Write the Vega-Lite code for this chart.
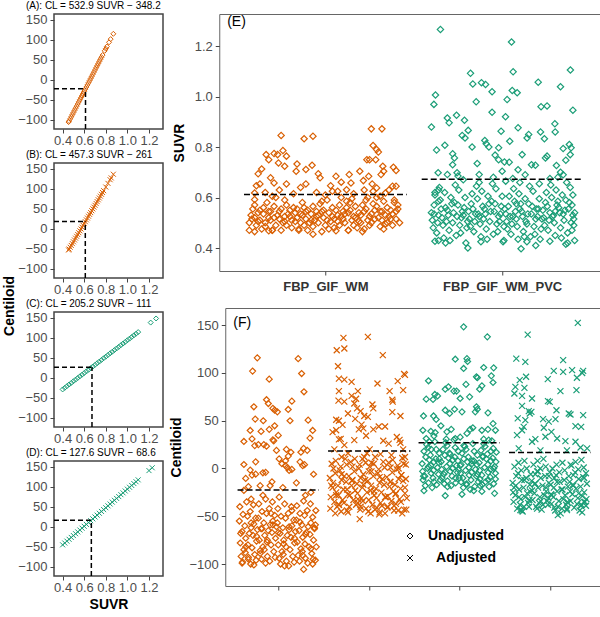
{
"$schema":"https://vega.github.io/schema/vega-lite/v6.json",
"padding":{"left":2,"top":0,"right":0,"bottom":0},
"background":"white",
"config":{
 "font":"Liberation Sans",
 "view":{"stroke":"#555","strokeWidth":1},
 "axis":{"grid":false,"domain":false,"ticks":true,"tickColor":"#444","tickSize":4,"labelColor":"#4D4D4D","labelFontSize":13,"labelPadding":2,"titleColor":"black","titleFontSize":14,"titleFontWeight":"bold","labelOverlap":false,"labelFlush":false},
 "title":{"fontSize":10,"fontWeight":"normal","anchor":"start","color":"black","offset":3,"frame":"group"}
},
"datasets":{
"t":[{"p":"E","x":0.445,"y":1.294,"t":"(E)"},{"p":"F","x":0.502,"y":152.3,"t":"(F)"}],
"e":[
{"g":"W","x":0.57,"s":0.5},{"g":"W","x":0.58,"s":0.53},{"g":"W","x":0.57,"s":0.47},{"g":"W","x":0.59,"s":0.555},
{"g":"W","x":0.6,"s":0.52},{"g":"W","x":0.61,"s":0.49},{"g":"W","x":0.6,"s":0.57},{"g":"W","x":0.62,"s":0.54},
{"g":"W","x":0.63,"s":0.51},{"g":"W","x":0.64,"s":0.475},{"g":"W","x":0.63,"s":0.55},{"g":"W","x":0.65,"s":0.535},
{"g":"W","x":0.66,"s":0.5},{"g":"W","x":0.67,"s":0.58},{"g":"W","x":0.66,"s":0.485},{"g":"W","x":0.68,"s":0.52},
{"g":"W","x":0.69,"s":0.545},{"g":"W","x":0.7,"s":0.47},{"g":"W","x":0.69,"s":0.51},{"g":"W","x":0.71,"s":0.565},
{"g":"W","x":0.72,"s":0.49},{"g":"W","x":0.73,"s":0.53},{"g":"W","x":0.72,"s":0.6},{"g":"W","x":0.74,"s":0.515},
{"g":"W","x":0.75,"s":0.555},{"g":"W","x":0.76,"s":0.5},{"g":"W","x":0.75,"s":0.47},{"g":"W","x":0.77,"s":0.525},
{"g":"W","x":0.78,"s":0.57},{"g":"W","x":0.79,"s":0.535},{"g":"W","x":0.78,"s":0.49},{"g":"W","x":0.8,"s":0.55},
{"g":"W","x":0.81,"s":0.51},{"g":"W","x":0.82,"s":0.56},{"g":"W","x":0.81,"s":0.48},{"g":"W","x":0.83,"s":0.54},
{"g":"W","x":0.84,"s":0.52},{"g":"W","x":0.85,"s":0.475},{"g":"W","x":0.84,"s":0.555},{"g":"W","x":0.86,"s":0.5},
{"g":"W","x":0.87,"s":0.53},{"g":"W","x":0.88,"s":0.49},{"g":"W","x":0.87,"s":0.58},{"g":"W","x":0.89,"s":0.515},
{"g":"W","x":0.9,"s":0.55},{"g":"W","x":0.91,"s":0.5},{"g":"W","x":0.9,"s":0.47},{"g":"W","x":0.92,"s":0.535},
{"g":"W","x":0.93,"s":0.565},{"g":"W","x":0.94,"s":0.51},{"g":"W","x":0.93,"s":0.485},{"g":"W","x":0.95,"s":0.545},
{"g":"W","x":0.96,"s":0.5},{"g":"W","x":0.97,"s":0.575},{"g":"W","x":0.96,"s":0.53},{"g":"W","x":0.98,"s":0.465},
{"g":"W","x":0.99,"s":0.52},{"g":"W","x":1.0,"s":0.49},{"g":"W","x":0.99,"s":0.55},{"g":"W","x":1.01,"s":0.59},
{"g":"W","x":1.02,"s":0.54},{"g":"W","x":1.03,"s":0.505},{"g":"W","x":1.02,"s":0.475},{"g":"W","x":1.04,"s":0.56},
{"g":"W","x":1.05,"s":0.515},{"g":"W","x":1.06,"s":0.55},{"g":"W","x":1.05,"s":0.48},{"g":"W","x":1.07,"s":0.53},
{"g":"W","x":1.08,"s":0.57},{"g":"W","x":1.09,"s":0.525},{"g":"W","x":1.08,"s":0.49},{"g":"W","x":1.1,"s":0.545},
{"g":"W","x":1.11,"s":0.5},{"g":"W","x":1.12,"s":0.56},{"g":"W","x":1.11,"s":0.535},{"g":"W","x":1.13,"s":0.47},
{"g":"W","x":1.14,"s":0.55},{"g":"W","x":1.15,"s":0.51},{"g":"W","x":1.14,"s":0.58},{"g":"W","x":1.16,"s":0.49},
{"g":"W","x":1.17,"s":0.52},{"g":"W","x":1.18,"s":0.48},{"g":"W","x":1.17,"s":0.565},{"g":"W","x":1.19,"s":0.54},
{"g":"W","x":1.2,"s":0.5},{"g":"W","x":1.21,"s":0.57},{"g":"W","x":1.2,"s":0.53},{"g":"W","x":1.22,"s":0.475},
{"g":"W","x":1.23,"s":0.555},{"g":"W","x":1.24,"s":0.51},{"g":"W","x":1.23,"s":0.59},{"g":"W","x":1.25,"s":0.49},
{"g":"W","x":1.26,"s":0.535},{"g":"W","x":1.27,"s":0.575},{"g":"W","x":1.26,"s":0.5},{"g":"W","x":1.28,"s":0.55},
{"g":"W","x":1.29,"s":0.6},{"g":"W","x":1.3,"s":0.52},{"g":"W","x":1.29,"s":0.565},{"g":"W","x":1.31,"s":0.485},
{"g":"W","x":1.32,"s":0.545},{"g":"W","x":1.33,"s":0.585},{"g":"W","x":1.32,"s":0.51},{"g":"W","x":1.34,"s":0.495},
{"g":"W","x":1.35,"s":0.56},{"g":"W","x":1.36,"s":0.525},{"g":"W","x":1.35,"s":0.5},{"g":"W","x":1.37,"s":0.55},
{"g":"W","x":1.38,"s":0.535},{"g":"W","x":1.39,"s":0.58},{"g":"W","x":1.38,"s":0.49},{"g":"W","x":1.4,"s":0.515},
{"g":"W","x":1.41,"s":0.555},{"g":"W","x":1.42,"s":0.5},{"g":"W","x":1.41,"s":0.57},
{"g":"W","x":0.585,"s":0.515},{"g":"W","x":0.62,"s":0.505},{"g":"W","x":0.68,"s":0.545},{"g":"W","x":0.71,"s":0.52},{"g":"W","x":0.74,"s":0.545},{"g":"W","x":0.77,"s":0.505},{"g":"W","x":0.8,"s":0.525},{"g":"W","x":0.83,"s":0.505},{"g":"W","x":0.86,"s":0.535},{"g":"W","x":0.89,"s":0.545},{"g":"W","x":0.92,"s":0.51},{"g":"W","x":0.95,"s":0.525},{"g":"W","x":0.98,"s":0.545},{"g":"W","x":1.01,"s":0.51},{"g":"W","x":1.04,"s":0.525},{"g":"W","x":1.07,"s":0.505},{"g":"W","x":1.1,"s":0.515},{"g":"W","x":1.13,"s":0.54},{"g":"W","x":1.16,"s":0.525},{"g":"W","x":1.19,"s":0.505},{"g":"W","x":1.22,"s":0.545},{"g":"W","x":1.25,"s":0.525},{"g":"W","x":1.28,"s":0.515},{"g":"W","x":1.31,"s":0.545},{"g":"W","x":1.34,"s":0.53},{"g":"W","x":1.37,"s":0.515},{"g":"W","x":1.4,"s":0.545},{"g":"W","x":0.65,"s":0.56},{"g":"W","x":0.88,"s":0.56},{"g":"W","x":1.12,"s":0.585},
{"g":"W","x":0.75,"s":0.846},{"g":"W","x":0.88,"s":0.833},{"g":"W","x":0.93,"s":0.843},{"g":"W","x":1.26,"s":0.872},{"g":"W","x":1.32,"s":0.872},{"g":"W","x":1.27,"s":0.806},{"g":"W","x":1.29,"s":0.79},{"g":"W","x":1.3,"s":0.78},{"g":"W","x":0.665,"s":0.77},{"g":"W","x":0.71,"s":0.774},{"g":"W","x":0.73,"s":0.77},{"g":"W","x":0.76,"s":0.786},{"g":"W","x":0.78,"s":0.764},{"g":"W","x":0.68,"s":0.75},{"g":"W","x":0.735,"s":0.737},{"g":"W","x":0.77,"s":0.724},{"g":"W","x":0.84,"s":0.733},{"g":"W","x":0.835,"s":0.704},{"g":"W","x":0.89,"s":0.711},{"g":"W","x":0.925,"s":0.728},{"g":"W","x":0.64,"s":0.713},{"g":"W","x":0.62,"s":0.694},{"g":"W","x":0.63,"s":0.654},{"g":"W","x":0.61,"s":0.647},{"g":"W","x":0.69,"s":0.678},{"g":"W","x":0.71,"s":0.658},{"g":"W","x":0.78,"s":0.654},{"g":"W","x":0.89,"s":0.654},{"g":"W","x":0.96,"s":0.694},{"g":"W","x":0.97,"s":0.678},{"g":"W","x":1.06,"s":0.684},{"g":"W","x":1.09,"s":0.661},{"g":"W","x":1.145,"s":0.658},{"g":"W","x":1.135,"s":0.691},{"g":"W","x":1.195,"s":0.704},{"g":"W","x":1.215,"s":0.667},{"g":"W","x":1.245,"s":0.684},{"g":"W","x":1.265,"s":0.654},{"g":"W","x":1.235,"s":0.75},{"g":"W","x":1.25,"s":0.75},{"g":"W","x":1.285,"s":0.75},{"g":"W","x":1.325,"s":0.724},{"g":"W","x":1.315,"s":0.691},{"g":"W","x":1.33,"s":0.704},{"g":"W","x":1.385,"s":0.72},{"g":"W","x":1.4,"s":0.707},{"g":"W","x":1.38,"s":0.645},{"g":"W","x":1.4,"s":0.645},{"g":"W","x":1.03,"s":0.647},{"g":"W","x":1.04,"s":0.625},{"g":"W","x":1.12,"s":0.631},{"g":"W","x":1.09,"s":0.6},{"g":"W","x":1.29,"s":0.638},{"g":"W","x":0.6,"s":0.618},{"g":"W","x":1.34,"s":0.618},{"g":"W","x":0.6,"s":0.592},
{"g":"W","x":0.66,"s":0.62},{"g":"W","x":0.7,"s":0.605},{"g":"W","x":0.74,"s":0.63},{"g":"W","x":0.82,"s":0.615},{"g":"W","x":0.86,"s":0.64},{"g":"W","x":0.95,"s":0.62},{"g":"W","x":1.0,"s":0.61},{"g":"W","x":1.07,"s":0.625},{"g":"W","x":1.16,"s":0.615},{"g":"W","x":1.22,"s":0.63},{"g":"W","x":1.27,"s":0.625},{"g":"W","x":1.31,"s":0.605},{"g":"W","x":1.36,"s":0.63},{"g":"W","x":1.39,"s":0.59},{"g":"W","x":0.77,"s":0.59},{"g":"W","x":0.98,"s":0.585},{"g":"W","x":1.15,"s":0.595},{"g":"W","x":1.24,"s":0.6},
{"g":"W","x":0.93,"s":0.455},{"g":"W","x":0.6,"s":0.465},{"g":"W","x":0.68,"s":0.468},{"g":"W","x":0.7,"s":0.47},{"g":"W","x":1.13,"s":0.47},{"g":"W","x":1.21,"s":0.465},{"g":"W","x":1.33,"s":0.475},{"g":"W","x":0.85,"s":0.47},{"g":"W","x":1.06,"s":0.468},
{"g":"P","x":1.6,"s":0.54},{"g":"P","x":1.61,"s":0.48},{"g":"P","x":1.62,"s":0.61},{"g":"P","x":1.605,"s":0.51},{"g":"P","x":1.615,"s":0.57},
{"g":"P","x":1.63,"s":0.46},{"g":"P","x":1.64,"s":0.53},{"g":"P","x":1.65,"s":0.59},{"g":"P","x":1.635,"s":0.5},{"g":"P","x":1.645,"s":0.64},
{"g":"P","x":1.66,"s":0.52},{"g":"P","x":1.67,"s":0.44},{"g":"P","x":1.68,"s":0.56},{"g":"P","x":1.665,"s":0.49},{"g":"P","x":1.675,"s":0.62},
{"g":"P","x":1.69,"s":0.55},{"g":"P","x":1.7,"s":0.47},{"g":"P","x":1.71,"s":0.6},{"g":"P","x":1.695,"s":0.53},{"g":"P","x":1.705,"s":0.43},
{"g":"P","x":1.72,"s":0.5},{"g":"P","x":1.73,"s":0.58},{"g":"P","x":1.74,"s":0.45},{"g":"P","x":1.725,"s":0.54},{"g":"P","x":1.735,"s":0.65},
{"g":"P","x":1.75,"s":0.57},{"g":"P","x":1.76,"s":0.49},{"g":"P","x":1.77,"s":0.52},{"g":"P","x":1.755,"s":0.63},{"g":"P","x":1.765,"s":0.46},
{"g":"P","x":1.78,"s":0.53},{"g":"P","x":1.79,"s":0.6},{"g":"P","x":1.8,"s":0.48},{"g":"P","x":1.785,"s":0.56},{"g":"P","x":1.795,"s":0.42},
{"g":"P","x":1.81,"s":0.545},{"g":"P","x":1.82,"s":0.485},{"g":"P","x":1.83,"s":0.615},{"g":"P","x":1.815,"s":0.515},{"g":"P","x":1.825,"s":0.575},
{"g":"P","x":1.84,"s":0.465},{"g":"P","x":1.85,"s":0.535},{"g":"P","x":1.86,"s":0.595},{"g":"P","x":1.845,"s":0.505},{"g":"P","x":1.855,"s":0.645},
{"g":"P","x":1.87,"s":0.525},{"g":"P","x":1.88,"s":0.445},{"g":"P","x":1.89,"s":0.565},{"g":"P","x":1.875,"s":0.495},{"g":"P","x":1.885,"s":0.625},
{"g":"P","x":1.9,"s":0.555},{"g":"P","x":1.91,"s":0.475},{"g":"P","x":1.92,"s":0.605},{"g":"P","x":1.905,"s":0.535},{"g":"P","x":1.915,"s":0.435},
{"g":"P","x":1.93,"s":0.505},{"g":"P","x":1.94,"s":0.585},{"g":"P","x":1.95,"s":0.455},{"g":"P","x":1.935,"s":0.545},{"g":"P","x":1.945,"s":0.655},
{"g":"P","x":1.96,"s":0.575},{"g":"P","x":1.97,"s":0.495},{"g":"P","x":1.98,"s":0.525},{"g":"P","x":1.965,"s":0.635},{"g":"P","x":1.975,"s":0.465},
{"g":"P","x":1.99,"s":0.535},{"g":"P","x":2.0,"s":0.605},{"g":"P","x":2.01,"s":0.485},{"g":"P","x":1.995,"s":0.565},{"g":"P","x":2.005,"s":0.425},
{"g":"P","x":2.02,"s":0.535},{"g":"P","x":2.03,"s":0.475},{"g":"P","x":2.04,"s":0.605},{"g":"P","x":2.025,"s":0.505},{"g":"P","x":2.035,"s":0.565},
{"g":"P","x":2.05,"s":0.455},{"g":"P","x":2.06,"s":0.525},{"g":"P","x":2.07,"s":0.585},{"g":"P","x":2.055,"s":0.495},{"g":"P","x":2.065,"s":0.635},
{"g":"P","x":2.08,"s":0.515},{"g":"P","x":2.09,"s":0.435},{"g":"P","x":2.1,"s":0.555},{"g":"P","x":2.085,"s":0.485},{"g":"P","x":2.095,"s":0.615},
{"g":"P","x":2.11,"s":0.545},{"g":"P","x":2.12,"s":0.465},{"g":"P","x":2.13,"s":0.595},{"g":"P","x":2.115,"s":0.525},{"g":"P","x":2.125,"s":0.445},
{"g":"P","x":2.14,"s":0.495},{"g":"P","x":2.15,"s":0.575},{"g":"P","x":2.16,"s":0.445},{"g":"P","x":2.145,"s":0.535},{"g":"P","x":2.155,"s":0.645},
{"g":"P","x":2.17,"s":0.565},{"g":"P","x":2.18,"s":0.485},{"g":"P","x":2.19,"s":0.515},{"g":"P","x":2.175,"s":0.625},{"g":"P","x":2.185,"s":0.455},
{"g":"P","x":2.2,"s":0.525},{"g":"P","x":2.21,"s":0.595},{"g":"P","x":2.22,"s":0.475},{"g":"P","x":2.205,"s":0.555},{"g":"P","x":2.215,"s":0.435},
{"g":"P","x":2.23,"s":0.55},{"g":"P","x":2.24,"s":0.49},{"g":"P","x":2.25,"s":0.62},{"g":"P","x":2.235,"s":0.52},{"g":"P","x":2.245,"s":0.58},
{"g":"P","x":2.26,"s":0.47},{"g":"P","x":2.27,"s":0.54},{"g":"P","x":2.28,"s":0.6},{"g":"P","x":2.265,"s":0.51},{"g":"P","x":2.275,"s":0.65},
{"g":"P","x":2.29,"s":0.53},{"g":"P","x":2.3,"s":0.45},{"g":"P","x":2.31,"s":0.57},{"g":"P","x":2.295,"s":0.5},{"g":"P","x":2.305,"s":0.63},
{"g":"P","x":2.32,"s":0.56},{"g":"P","x":2.33,"s":0.48},{"g":"P","x":2.34,"s":0.61},{"g":"P","x":2.325,"s":0.54},{"g":"P","x":2.335,"s":0.44},
{"g":"P","x":2.35,"s":0.51},{"g":"P","x":2.36,"s":0.59},{"g":"P","x":2.37,"s":0.46},{"g":"P","x":2.355,"s":0.55},{"g":"P","x":2.365,"s":0.66},
{"g":"P","x":2.38,"s":0.58},{"g":"P","x":2.39,"s":0.5},{"g":"P","x":2.4,"s":0.53},{"g":"P","x":2.385,"s":0.64},{"g":"P","x":2.395,"s":0.47},
{"g":"P","x":2.41,"s":0.54},{"g":"P","x":2.4,"s":0.61},{"g":"P","x":2.405,"s":0.49},{"g":"P","x":2.395,"s":0.57},{"g":"P","x":2.41,"s":0.43},
{"g":"P","x":1.615,"s":0.535},{"g":"P","x":1.655,"s":0.555},{"g":"P","x":1.685,"s":0.505},{"g":"P","x":1.715,"s":0.575},{"g":"P","x":1.745,"s":0.525},{"g":"P","x":1.775,"s":0.545},{"g":"P","x":1.805,"s":0.505},{"g":"P","x":1.835,"s":0.555},{"g":"P","x":1.865,"s":0.535},{"g":"P","x":1.895,"s":0.515},{"g":"P","x":1.925,"s":0.575},{"g":"P","x":1.955,"s":0.545},{"g":"P","x":1.985,"s":0.505},{"g":"P","x":2.015,"s":0.555},{"g":"P","x":2.045,"s":0.525},{"g":"P","x":2.075,"s":0.545},{"g":"P","x":2.105,"s":0.575},{"g":"P","x":2.135,"s":0.505},{"g":"P","x":2.165,"s":0.535},{"g":"P","x":2.195,"s":0.555},{"g":"P","x":2.225,"s":0.515},{"g":"P","x":2.255,"s":0.565},{"g":"P","x":2.285,"s":0.525},{"g":"P","x":2.315,"s":0.585},{"g":"P","x":2.345,"s":0.535},{"g":"P","x":2.375,"s":0.555},{"g":"P","x":2.405,"s":0.515},{"g":"P","x":1.64,"s":0.585},{"g":"P","x":2.08,"s":0.575},{"g":"P","x":2.3,"s":0.545},
{"g":"P","x":1.651,"s":1.266},{"g":"P","x":2.053,"s":1.216},{"g":"P","x":2.062,"s":1.098},{"g":"P","x":2.386,"s":1.105},{"g":"P","x":1.821,"s":1.092},{"g":"P","x":1.883,"s":1.055},{"g":"P","x":1.906,"s":1.048},{"g":"P","x":1.834,"s":1.05},{"g":"P","x":1.943,"s":1.019},{"g":"P","x":2.057,"s":1.024},{"g":"P","x":2.085,"s":1.015},{"g":"P","x":2.204,"s":1.057},{"g":"P","x":2.33,"s":1.039},{"g":"P","x":1.623,"s":1.006},{"g":"P","x":1.614,"s":0.969},{"g":"P","x":2.028,"s":0.988},{"g":"P","x":1.853,"s":0.979},{"g":"P","x":1.943,"s":0.938},{"g":"P","x":2.22,"s":0.96},{"g":"P","x":2.254,"s":0.963},{"g":"P","x":2.4,"s":0.946},{"g":"P","x":1.69,"s":0.915},{"g":"P","x":1.7,"s":0.896},{"g":"P","x":1.742,"s":0.926},{"g":"P","x":1.787,"s":0.906},{"g":"P","x":2.019,"s":0.92},{"g":"P","x":1.6,"s":0.879},{"g":"P","x":2.09,"s":0.876},{"g":"P","x":2.298,"s":0.892},{"g":"P","x":1.808,"s":0.866},{"g":"P","x":1.774,"s":0.846},{"g":"P","x":1.79,"s":0.836},{"g":"P","x":1.994,"s":0.863},{"g":"P","x":2.15,"s":0.85},{"g":"P","x":2.141,"s":0.836},{"g":"P","x":2.217,"s":0.86},{"g":"P","x":2.239,"s":0.833},{"g":"P","x":2.3,"s":0.86},{"g":"P","x":2.043,"s":0.823},{"g":"P","x":1.902,"s":0.826},{"g":"P","x":1.91,"s":0.813},{"g":"P","x":1.925,"s":0.8},{"g":"P","x":1.83,"s":0.8},{"g":"P","x":1.676,"s":0.807},{"g":"P","x":1.629,"s":0.788},{"g":"P","x":2.38,"s":0.81},{"g":"P","x":2.39,"s":0.797},{"g":"P","x":2.345,"s":0.794},{"g":"P","x":1.98,"s":0.797},{"g":"P","x":2.385,"s":0.77},{"g":"P","x":2.113,"s":0.77},{"g":"P","x":1.72,"s":0.773},{"g":"P","x":1.73,"s":0.757},{"g":"P","x":1.96,"s":0.768},{"g":"P","x":1.98,"s":0.75},{"g":"P","x":2.254,"s":0.764},{"g":"P","x":2.245,"s":0.757},{"g":"P","x":1.859,"s":0.735},{"g":"P","x":1.72,"s":0.73},{"g":"P","x":2.013,"s":0.741},{"g":"P","x":2.04,"s":0.74},{"g":"P","x":2.09,"s":0.71},{"g":"P","x":2.0,"s":0.704},{"g":"P","x":2.166,"s":0.73},{"g":"P","x":2.188,"s":0.728},{"g":"P","x":2.36,"s":0.748},{"g":"P","x":2.307,"s":0.727},{"g":"P","x":1.638,"s":0.698},{"g":"P","x":1.69,"s":0.691},{"g":"P","x":1.87,"s":0.691},{"g":"P","x":2.13,"s":0.69},{"g":"P","x":2.33,"s":0.7},{"g":"P","x":2.345,"s":0.69},{"g":"P","x":2.315,"s":0.68},{"g":"P","x":1.745,"s":0.698},{"g":"P","x":1.62,"s":0.62},{"g":"P","x":1.64,"s":0.63},{"g":"P","x":1.75,"s":0.685},{"g":"P","x":1.78,"s":0.67},{"g":"P","x":1.95,"s":0.68},{"g":"P","x":2.06,"s":0.675},{"g":"P","x":2.27,"s":0.675},{"g":"P","x":2.02,"s":0.665},{"g":"P","x":1.87,"s":0.66},{"g":"P","x":2.1,"s":0.66},{"g":"P","x":2.21,"s":0.655},
{"g":"P","x":2.107,"s":0.397},{"g":"P","x":1.806,"s":0.4},{"g":"P","x":1.62,"s":0.427},{"g":"P","x":1.68,"s":0.42},{"g":"P","x":2.19,"s":0.41},{"g":"P","x":2.27,"s":0.427},{"g":"P","x":2.36,"s":0.415},{"g":"P","x":2.37,"s":0.42},{"g":"P","x":1.64,"s":0.43},{"g":"P","x":1.88,"s":0.425},{"g":"P","x":2.01,"s":0.43},{"g":"P","x":2.14,"s":0.425}
],
"f":[
{"g":"W","m":"U","x":0.57,"y":-55},{"g":"W","m":"U","x":0.58,"y":-78},{"g":"W","m":"U","x":0.59,"y":-92},{"g":"W","m":"U","x":0.575,"y":-40},
{"g":"W","m":"U","x":0.6,"y":-66},{"g":"W","m":"U","x":0.61,"y":-48},{"g":"W","m":"U","x":0.62,"y":-85},{"g":"W","m":"U","x":0.605,"y":-98},
{"g":"W","m":"U","x":0.63,"y":-60},{"g":"W","m":"U","x":0.64,"y":-73},{"g":"W","m":"U","x":0.65,"y":-35},{"g":"W","m":"U","x":0.635,"y":-88},
{"g":"W","m":"U","x":0.66,"y":-50},{"g":"W","m":"U","x":0.67,"y":-95},{"g":"W","m":"U","x":0.68,"y":-68},{"g":"W","m":"U","x":0.665,"y":-80},
{"g":"W","m":"U","x":0.69,"y":-45},{"g":"W","m":"U","x":0.7,"y":-62},{"g":"W","m":"U","x":0.71,"y":-83},{"g":"W","m":"U","x":0.695,"y":-100},
{"g":"W","m":"U","x":0.72,"y":-70},{"g":"W","m":"U","x":0.73,"y":-58},{"g":"W","m":"U","x":0.74,"y":-90},{"g":"W","m":"U","x":0.725,"y":-38},
{"g":"W","m":"U","x":0.75,"y":-52},{"g":"W","m":"U","x":0.76,"y":-76},{"g":"W","m":"U","x":0.77,"y":-64},{"g":"W","m":"U","x":0.755,"y":-96},
{"g":"W","m":"U","x":0.78,"y":-52},{"g":"W","m":"U","x":0.79,"y":-75},{"g":"W","m":"U","x":0.8,"y":-89},{"g":"W","m":"U","x":0.785,"y":-37},
{"g":"W","m":"U","x":0.81,"y":-63},{"g":"W","m":"U","x":0.82,"y":-45},{"g":"W","m":"U","x":0.83,"y":-82},{"g":"W","m":"U","x":0.815,"y":-95},
{"g":"W","m":"U","x":0.84,"y":-57},{"g":"W","m":"U","x":0.85,"y":-70},{"g":"W","m":"U","x":0.86,"y":-32},{"g":"W","m":"U","x":0.845,"y":-85},
{"g":"W","m":"U","x":0.87,"y":-47},{"g":"W","m":"U","x":0.88,"y":-92},{"g":"W","m":"U","x":0.89,"y":-65},{"g":"W","m":"U","x":0.875,"y":-77},
{"g":"W","m":"U","x":0.9,"y":-42},{"g":"W","m":"U","x":0.91,"y":-59},{"g":"W","m":"U","x":0.92,"y":-80},{"g":"W","m":"U","x":0.905,"y":-97},
{"g":"W","m":"U","x":0.93,"y":-67},{"g":"W","m":"U","x":0.94,"y":-55},{"g":"W","m":"U","x":0.95,"y":-87},{"g":"W","m":"U","x":0.935,"y":-35},
{"g":"W","m":"U","x":0.96,"y":-49},{"g":"W","m":"U","x":0.97,"y":-73},{"g":"W","m":"U","x":0.98,"y":-61},{"g":"W","m":"U","x":0.965,"y":-93},
{"g":"W","m":"U","x":0.99,"y":-57},{"g":"W","m":"U","x":1.0,"y":-80},{"g":"W","m":"U","x":1.01,"y":-94},{"g":"W","m":"U","x":0.995,"y":-42},
{"g":"W","m":"U","x":1.02,"y":-68},{"g":"W","m":"U","x":1.03,"y":-50},{"g":"W","m":"U","x":1.04,"y":-87},{"g":"W","m":"U","x":1.025,"y":-100},
{"g":"W","m":"U","x":1.05,"y":-62},{"g":"W","m":"U","x":1.06,"y":-75},{"g":"W","m":"U","x":1.07,"y":-37},{"g":"W","m":"U","x":1.055,"y":-90},
{"g":"W","m":"U","x":1.08,"y":-52},{"g":"W","m":"U","x":1.09,"y":-97},{"g":"W","m":"U","x":1.1,"y":-70},{"g":"W","m":"U","x":1.085,"y":-82},
{"g":"W","m":"U","x":1.11,"y":-47},{"g":"W","m":"U","x":1.12,"y":-64},{"g":"W","m":"U","x":1.13,"y":-85},{"g":"W","m":"U","x":1.115,"y":-102},
{"g":"W","m":"U","x":1.14,"y":-72},{"g":"W","m":"U","x":1.15,"y":-60},{"g":"W","m":"U","x":1.16,"y":-92},{"g":"W","m":"U","x":1.145,"y":-40},
{"g":"W","m":"U","x":1.17,"y":-54},{"g":"W","m":"U","x":1.18,"y":-78},{"g":"W","m":"U","x":1.19,"y":-66},{"g":"W","m":"U","x":1.175,"y":-98},
{"g":"W","m":"U","x":1.2,"y":-54},{"g":"W","m":"U","x":1.21,"y":-77},{"g":"W","m":"U","x":1.22,"y":-91},{"g":"W","m":"U","x":1.205,"y":-39},
{"g":"W","m":"U","x":1.23,"y":-65},{"g":"W","m":"U","x":1.24,"y":-47},{"g":"W","m":"U","x":1.25,"y":-84},{"g":"W","m":"U","x":1.235,"y":-97},
{"g":"W","m":"U","x":1.26,"y":-59},{"g":"W","m":"U","x":1.27,"y":-72},{"g":"W","m":"U","x":1.28,"y":-34},{"g":"W","m":"U","x":1.265,"y":-87},
{"g":"W","m":"U","x":1.29,"y":-49},{"g":"W","m":"U","x":1.3,"y":-94},{"g":"W","m":"U","x":1.31,"y":-67},{"g":"W","m":"U","x":1.295,"y":-79},
{"g":"W","m":"U","x":1.32,"y":-44},{"g":"W","m":"U","x":1.33,"y":-61},{"g":"W","m":"U","x":1.34,"y":-82},{"g":"W","m":"U","x":1.325,"y":-99},
{"g":"W","m":"U","x":1.35,"y":-69},{"g":"W","m":"U","x":1.36,"y":-57},{"g":"W","m":"U","x":1.37,"y":-89},{"g":"W","m":"U","x":1.355,"y":-37},
{"g":"W","m":"U","x":1.38,"y":-51},{"g":"W","m":"U","x":1.39,"y":-75},{"g":"W","m":"U","x":1.4,"y":-63},{"g":"W","m":"U","x":1.385,"y":-95},
{"g":"W","m":"U","x":1.41,"y":-59},{"g":"W","m":"U","x":1.42,"y":-82},{"g":"W","m":"U","x":1.41,"y":-96},{"g":"W","m":"U","x":1.415,"y":-44},
{"g":"W","m":"U","x":0.585,"y":-68},{"g":"W","m":"U","x":0.64,"y":-82},{"g":"W","m":"U","x":0.7,"y":-57},{"g":"W","m":"U","x":0.76,"y":-71},{"g":"W","m":"U","x":0.82,"y":-63},{"g":"W","m":"U","x":0.88,"y":-75},{"g":"W","m":"U","x":0.94,"y":-59},{"g":"W","m":"U","x":1.0,"y":-67},{"g":"W","m":"U","x":1.06,"y":-79},{"g":"W","m":"U","x":1.12,"y":-61},{"g":"W","m":"U","x":1.18,"y":-73},{"g":"W","m":"U","x":1.24,"y":-56},{"g":"W","m":"U","x":1.3,"y":-69},{"g":"W","m":"U","x":1.36,"y":-84},{"g":"W","m":"U","x":1.4,"y":-62},{"g":"W","m":"U","x":0.67,"y":-93},{"g":"W","m":"U","x":0.92,"y":-47},{"g":"W","m":"U","x":1.15,"y":-44},{"g":"W","m":"U","x":1.27,"y":-91},{"g":"W","m":"U","x":0.8,"y":-86},
{"g":"W","m":"U","x":0.768,"y":115.8},{"g":"W","m":"U","x":1.22,"y":115},{"g":"W","m":"U","x":0.716,"y":102},{"g":"W","m":"U","x":1.258,"y":99.4},{"g":"W","m":"U","x":0.9,"y":93.5},{"g":"W","m":"U","x":1.284,"y":80.3},{"g":"W","m":"U","x":0.73,"y":64.6},{"g":"W","m":"U","x":0.87,"y":72},{"g":"W","m":"U","x":0.89,"y":68},{"g":"W","m":"U","x":0.94,"y":63},{"g":"W","m":"U","x":0.96,"y":61},{"g":"W","m":"U","x":0.99,"y":59.3},{"g":"W","m":"U","x":1.15,"y":70.5},{"g":"W","m":"U","x":1.11,"y":61.8},{"g":"W","m":"U","x":0.745,"y":51.7},{"g":"W","m":"U","x":0.834,"y":50},{"g":"W","m":"U","x":1.13,"y":50},{"g":"W","m":"U","x":1.33,"y":50.6},{"g":"W","m":"U","x":0.69,"y":39.8},{"g":"W","m":"U","x":0.81,"y":38.8},{"g":"W","m":"U","x":0.9,"y":41},{"g":"W","m":"U","x":0.96,"y":44.7},{"g":"W","m":"U","x":1.38,"y":39.8},{"g":"W","m":"U","x":0.94,"y":30},{"g":"W","m":"U","x":0.95,"y":29},{"g":"W","m":"U","x":1.0,"y":34.6},{"g":"W","m":"U","x":0.62,"y":28.3},{"g":"W","m":"U","x":0.71,"y":31},{"g":"W","m":"U","x":0.84,"y":25},{"g":"W","m":"U","x":0.87,"y":23.4},{"g":"W","m":"U","x":0.74,"y":24},{"g":"W","m":"U","x":0.78,"y":25},{"g":"W","m":"U","x":1.35,"y":31.8},{"g":"W","m":"U","x":0.98,"y":18.9},{"g":"W","m":"U","x":1.09,"y":20},{"g":"W","m":"U","x":1.11,"y":13},{"g":"W","m":"U","x":1.14,"y":17},{"g":"W","m":"U","x":1.25,"y":17},{"g":"W","m":"U","x":1.28,"y":21},{"g":"W","m":"U","x":1.32,"y":19},{"g":"W","m":"U","x":0.62,"y":4.2},{"g":"W","m":"U","x":0.69,"y":-1.7},{"g":"W","m":"U","x":0.64,"y":-10.4},{"g":"W","m":"U","x":0.71,"y":-6.9},{"g":"W","m":"U","x":0.75,"y":-5.9},{"g":"W","m":"U","x":0.75,"y":7},{"g":"W","m":"U","x":0.83,"y":-4.5},{"g":"W","m":"U","x":0.86,"y":-4},{"g":"W","m":"U","x":1.01,"y":10},{"g":"W","m":"U","x":1.04,"y":5},{"g":"W","m":"U","x":1.08,"y":8},{"g":"W","m":"U","x":1.08,"y":3},{"g":"W","m":"U","x":1.1,"y":1},{"g":"W","m":"U","x":1.12,"y":-2},{"g":"W","m":"U","x":1.15,"y":-1},{"g":"W","m":"U","x":1.24,"y":7},{"g":"W","m":"U","x":1.27,"y":3},{"g":"W","m":"U","x":1.29,"y":4},{"g":"W","m":"U","x":1.39,"y":-6},{"g":"W","m":"U","x":0.62,"y":-23},{"g":"W","m":"U","x":0.67,"y":-19},{"g":"W","m":"U","x":0.8,"y":-18},{"g":"W","m":"U","x":0.91,"y":-18},{"g":"W","m":"U","x":0.93,"y":-14},{"g":"W","m":"U","x":1.05,"y":-20},{"g":"W","m":"U","x":1.2,"y":-15},{"g":"W","m":"U","x":1.36,"y":-25},{"g":"W","m":"U","x":0.83,"y":-28},{"g":"W","m":"U","x":1.01,"y":-30},{"g":"W","m":"U","x":1.3,"y":-28},{"g":"W","m":"U","x":0.7,"y":-32},
{"g":"W","m":"U","x":1.28,"y":-105.6},{"g":"W","m":"U","x":0.6,"y":-99},{"g":"W","m":"U","x":0.73,"y":-101},{"g":"W","m":"U","x":1.38,"y":-100},{"g":"W","m":"U","x":1.07,"y":-102},{"g":"W","m":"U","x":0.86,"y":-99},
{"g":"W","m":"A","x":1.57,"y":-10},{"g":"W","m":"A","x":1.58,"y":-30},{"g":"W","m":"A","x":1.59,"y":5},{"g":"W","m":"A","x":1.575,"y":-42},
{"g":"W","m":"A","x":1.6,"y":-20},{"g":"W","m":"A","x":1.61,"y":0},{"g":"W","m":"A","x":1.62,"y":-35},{"g":"W","m":"A","x":1.605,"y":-15},
{"g":"W","m":"A","x":1.63,"y":-5},{"g":"W","m":"A","x":1.64,"y":-25},{"g":"W","m":"A","x":1.65,"y":-40},{"g":"W","m":"A","x":1.635,"y":8},
{"g":"W","m":"A","x":1.66,"y":-18},{"g":"W","m":"A","x":1.67,"y":-38},{"g":"W","m":"A","x":1.68,"y":-2},{"g":"W","m":"A","x":1.665,"y":-28},
{"g":"W","m":"A","x":1.69,"y":2},{"g":"W","m":"A","x":1.7,"y":-12},{"g":"W","m":"A","x":1.71,"y":-33},{"g":"W","m":"A","x":1.695,"y":-45},
{"g":"W","m":"A","x":1.72,"y":-22},{"g":"W","m":"A","x":1.73,"y":-8},{"g":"W","m":"A","x":1.74,"y":10},{"g":"W","m":"A","x":1.725,"y":-36},
{"g":"W","m":"A","x":1.75,"y":-14},{"g":"W","m":"A","x":1.76,"y":-44},{"g":"W","m":"A","x":1.77,"y":-27},{"g":"W","m":"A","x":1.755,"y":4},
{"g":"W","m":"A","x":1.78,"y":-8},{"g":"W","m":"A","x":1.79,"y":-28},{"g":"W","m":"A","x":1.8,"y":7},{"g":"W","m":"A","x":1.785,"y":-40},
{"g":"W","m":"A","x":1.81,"y":-18},{"g":"W","m":"A","x":1.82,"y":2},{"g":"W","m":"A","x":1.83,"y":-33},{"g":"W","m":"A","x":1.815,"y":-13},
{"g":"W","m":"A","x":1.84,"y":-3},{"g":"W","m":"A","x":1.85,"y":-23},{"g":"W","m":"A","x":1.86,"y":-38},{"g":"W","m":"A","x":1.845,"y":10},
{"g":"W","m":"A","x":1.87,"y":-16},{"g":"W","m":"A","x":1.88,"y":-36},{"g":"W","m":"A","x":1.89,"y":0},{"g":"W","m":"A","x":1.875,"y":-26},
{"g":"W","m":"A","x":1.9,"y":4},{"g":"W","m":"A","x":1.91,"y":-10},{"g":"W","m":"A","x":1.92,"y":-31},{"g":"W","m":"A","x":1.905,"y":-43},
{"g":"W","m":"A","x":1.93,"y":-20},{"g":"W","m":"A","x":1.94,"y":-6},{"g":"W","m":"A","x":1.95,"y":12},{"g":"W","m":"A","x":1.935,"y":-34},
{"g":"W","m":"A","x":1.96,"y":-12},{"g":"W","m":"A","x":1.97,"y":-42},{"g":"W","m":"A","x":1.98,"y":-25},{"g":"W","m":"A","x":1.965,"y":6},
{"g":"W","m":"A","x":1.99,"y":-13},{"g":"W","m":"A","x":2.0,"y":-33},{"g":"W","m":"A","x":2.01,"y":2},{"g":"W","m":"A","x":1.995,"y":-45},
{"g":"W","m":"A","x":2.02,"y":-23},{"g":"W","m":"A","x":2.03,"y":-3},{"g":"W","m":"A","x":2.04,"y":-38},{"g":"W","m":"A","x":2.025,"y":-18},
{"g":"W","m":"A","x":2.05,"y":-8},{"g":"W","m":"A","x":2.06,"y":-28},{"g":"W","m":"A","x":2.07,"y":-43},{"g":"W","m":"A","x":2.055,"y":5},
{"g":"W","m":"A","x":2.08,"y":-21},{"g":"W","m":"A","x":2.09,"y":-41},{"g":"W","m":"A","x":2.1,"y":-5},{"g":"W","m":"A","x":2.085,"y":-31},
{"g":"W","m":"A","x":2.11,"y":-1},{"g":"W","m":"A","x":2.12,"y":-15},{"g":"W","m":"A","x":2.13,"y":-36},{"g":"W","m":"A","x":2.115,"y":-48},
{"g":"W","m":"A","x":2.14,"y":-25},{"g":"W","m":"A","x":2.15,"y":-11},{"g":"W","m":"A","x":2.16,"y":7},{"g":"W","m":"A","x":2.145,"y":-39},
{"g":"W","m":"A","x":2.17,"y":-17},{"g":"W","m":"A","x":2.18,"y":-47},{"g":"W","m":"A","x":2.19,"y":-30},{"g":"W","m":"A","x":2.175,"y":1},
{"g":"W","m":"A","x":2.2,"y":-9},{"g":"W","m":"A","x":2.21,"y":-29},{"g":"W","m":"A","x":2.22,"y":6},{"g":"W","m":"A","x":2.205,"y":-41},
{"g":"W","m":"A","x":2.23,"y":-19},{"g":"W","m":"A","x":2.24,"y":1},{"g":"W","m":"A","x":2.25,"y":-34},{"g":"W","m":"A","x":2.235,"y":-14},
{"g":"W","m":"A","x":2.26,"y":-4},{"g":"W","m":"A","x":2.27,"y":-24},{"g":"W","m":"A","x":2.28,"y":-39},{"g":"W","m":"A","x":2.265,"y":9},
{"g":"W","m":"A","x":2.29,"y":-17},{"g":"W","m":"A","x":2.3,"y":-37},{"g":"W","m":"A","x":2.31,"y":-1},{"g":"W","m":"A","x":2.295,"y":-27},
{"g":"W","m":"A","x":2.32,"y":3},{"g":"W","m":"A","x":2.33,"y":-11},{"g":"W","m":"A","x":2.34,"y":-32},{"g":"W","m":"A","x":2.325,"y":-44},
{"g":"W","m":"A","x":2.35,"y":-21},{"g":"W","m":"A","x":2.36,"y":-7},{"g":"W","m":"A","x":2.37,"y":11},{"g":"W","m":"A","x":2.355,"y":-35},
{"g":"W","m":"A","x":2.38,"y":-13},{"g":"W","m":"A","x":2.39,"y":-43},{"g":"W","m":"A","x":2.4,"y":-26},{"g":"W","m":"A","x":2.385,"y":5},
{"g":"W","m":"A","x":2.41,"y":-11},{"g":"W","m":"A","x":2.42,"y":-31},{"g":"W","m":"A","x":2.41,"y":4},{"g":"W","m":"A","x":2.415,"y":-43},
{"g":"W","m":"A","x":1.585,"y":-18},{"g":"W","m":"A","x":1.64,"y":-28},{"g":"W","m":"A","x":1.7,"y":-6},{"g":"W","m":"A","x":1.76,"y":-22},{"g":"W","m":"A","x":1.82,"y":-12},{"g":"W","m":"A","x":1.88,"y":-32},{"g":"W","m":"A","x":1.94,"y":-17},{"g":"W","m":"A","x":2.0,"y":-3},{"g":"W","m":"A","x":2.06,"y":-24},{"g":"W","m":"A","x":2.12,"y":-9},{"g":"W","m":"A","x":2.18,"y":-30},{"g":"W","m":"A","x":2.24,"y":-14},{"g":"W","m":"A","x":2.3,"y":-26},{"g":"W","m":"A","x":2.36,"y":-7},{"g":"W","m":"A","x":2.4,"y":-20},{"g":"W","m":"A","x":1.67,"y":-38},{"g":"W","m":"A","x":1.91,"y":-40},{"g":"W","m":"A","x":2.03,"y":6},{"g":"W","m":"A","x":2.21,"y":-40},{"g":"W","m":"A","x":2.33,"y":0},
{"g":"W","m":"A","x":1.72,"y":136.7},{"g":"W","m":"A","x":1.99,"y":137.8},{"g":"W","m":"A","x":1.646,"y":123.8},{"g":"W","m":"A","x":1.73,"y":125.6},{"g":"W","m":"A","x":2.155,"y":118.6},{"g":"W","m":"A","x":1.66,"y":107},{"g":"W","m":"A","x":1.67,"y":94},{"g":"W","m":"A","x":1.73,"y":93},{"g":"W","m":"A","x":1.81,"y":90.7},{"g":"W","m":"A","x":2.096,"y":89},{"g":"W","m":"A","x":2.32,"y":91.4},{"g":"W","m":"A","x":2.39,"y":99},{"g":"W","m":"A","x":2.4,"y":98},{"g":"W","m":"A","x":1.67,"y":81},{"g":"W","m":"A","x":1.88,"y":81},{"g":"W","m":"A","x":2.23,"y":81},{"g":"W","m":"A","x":2.38,"y":82},{"g":"W","m":"A","x":2.26,"y":72},{"g":"W","m":"A","x":2.265,"y":70},{"g":"W","m":"A","x":1.81,"y":76},{"g":"W","m":"A","x":1.86,"y":73},{"g":"W","m":"A","x":1.665,"y":71},{"g":"W","m":"A","x":1.73,"y":70},{"g":"W","m":"A","x":1.84,"y":68},{"g":"W","m":"A","x":1.77,"y":57.6},{"g":"W","m":"A","x":1.87,"y":63},{"g":"W","m":"A","x":1.91,"y":60},{"g":"W","m":"A","x":1.95,"y":55},{"g":"W","m":"A","x":1.99,"y":54},{"g":"W","m":"A","x":2.04,"y":67},{"g":"W","m":"A","x":2.05,"y":63},{"g":"W","m":"A","x":2.11,"y":44},{"g":"W","m":"A","x":2.18,"y":44},{"g":"W","m":"A","x":2.26,"y":59},{"g":"W","m":"A","x":2.35,"y":55},{"g":"W","m":"A","x":1.64,"y":51},{"g":"W","m":"A","x":1.67,"y":50},{"g":"W","m":"A","x":1.71,"y":45.6},{"g":"W","m":"A","x":1.64,"y":40},{"g":"W","m":"A","x":1.67,"y":30.5},{"g":"W","m":"A","x":1.69,"y":31},{"g":"W","m":"A","x":1.73,"y":24.5},{"g":"W","m":"A","x":1.85,"y":52},{"g":"W","m":"A","x":1.89,"y":41},{"g":"W","m":"A","x":1.92,"y":46},{"g":"W","m":"A","x":1.94,"y":42},{"g":"W","m":"A","x":1.84,"y":29.7},{"g":"W","m":"A","x":1.97,"y":34.3},{"g":"W","m":"A","x":2.05,"y":41},{"g":"W","m":"A","x":2.16,"y":29},{"g":"W","m":"A","x":2.22,"y":26},{"g":"W","m":"A","x":2.31,"y":33},{"g":"W","m":"A","x":2.34,"y":30},{"g":"W","m":"A","x":2.35,"y":27},{"g":"W","m":"A","x":2.01,"y":20},{"g":"W","m":"A","x":1.98,"y":16},{"g":"W","m":"A","x":1.77,"y":16},{"g":"W","m":"A","x":1.6,"y":38},{"g":"W","m":"A","x":1.62,"y":20},{"g":"W","m":"A","x":2.4,"y":12},{"g":"W","m":"A","x":2.38,"y":20},{"g":"W","m":"A","x":2.25,"y":14},{"g":"W","m":"A","x":2.07,"y":12},{"g":"W","m":"A","x":1.93,"y":10},{"g":"W","m":"A","x":2.13,"y":15},{"g":"W","m":"A","x":1.7,"y":12},
{"g":"W","m":"A","x":1.9,"y":-53},{"g":"W","m":"A","x":1.63,"y":-47},{"g":"W","m":"A","x":1.77,"y":-46},{"g":"W","m":"A","x":2.02,"y":-47},{"g":"W","m":"A","x":2.12,"y":-46},{"g":"W","m":"A","x":2.37,"y":-47},{"g":"W","m":"A","x":2.28,"y":-44},
{"g":"P","m":"U","x":2.59,"y":5},{"g":"P","m":"U","x":2.6,"y":-12},{"g":"P","m":"U","x":2.61,"y":18},{"g":"P","m":"U","x":2.595,"y":-3},
{"g":"P","m":"U","x":2.62,"y":-8},{"g":"P","m":"U","x":2.63,"y":12},{"g":"P","m":"U","x":2.64,"y":25},{"g":"P","m":"U","x":2.625,"y":-18},
{"g":"P","m":"U","x":2.65,"y":0},{"g":"P","m":"U","x":2.66,"y":-15},{"g":"P","m":"U","x":2.67,"y":9},{"g":"P","m":"U","x":2.655,"y":22},
{"g":"P","m":"U","x":2.68,"y":14},{"g":"P","m":"U","x":2.69,"y":-5},{"g":"P","m":"U","x":2.7,"y":-20},{"g":"P","m":"U","x":2.685,"y":3},
{"g":"P","m":"U","x":2.71,"y":-10},{"g":"P","m":"U","x":2.72,"y":7},{"g":"P","m":"U","x":2.73,"y":28},{"g":"P","m":"U","x":2.715,"y":-2},
{"g":"P","m":"U","x":2.74,"y":10},{"g":"P","m":"U","x":2.75,"y":-17},{"g":"P","m":"U","x":2.76,"y":1},{"g":"P","m":"U","x":2.745,"y":20},
{"g":"P","m":"U","x":2.77,"y":-6},{"g":"P","m":"U","x":2.78,"y":16},{"g":"P","m":"U","x":2.79,"y":-12},{"g":"P","m":"U","x":2.775,"y":6},
{"g":"P","m":"U","x":2.8,"y":7},{"g":"P","m":"U","x":2.81,"y":-10},{"g":"P","m":"U","x":2.82,"y":20},{"g":"P","m":"U","x":2.805,"y":-1},
{"g":"P","m":"U","x":2.83,"y":-6},{"g":"P","m":"U","x":2.84,"y":14},{"g":"P","m":"U","x":2.85,"y":27},{"g":"P","m":"U","x":2.835,"y":-16},
{"g":"P","m":"U","x":2.86,"y":2},{"g":"P","m":"U","x":2.87,"y":-13},{"g":"P","m":"U","x":2.88,"y":11},{"g":"P","m":"U","x":2.865,"y":24},
{"g":"P","m":"U","x":2.89,"y":16},{"g":"P","m":"U","x":2.9,"y":-3},{"g":"P","m":"U","x":2.91,"y":-18},{"g":"P","m":"U","x":2.895,"y":5},
{"g":"P","m":"U","x":2.92,"y":-8},{"g":"P","m":"U","x":2.93,"y":9},{"g":"P","m":"U","x":2.94,"y":30},{"g":"P","m":"U","x":2.925,"y":0},
{"g":"P","m":"U","x":2.95,"y":12},{"g":"P","m":"U","x":2.96,"y":-15},{"g":"P","m":"U","x":2.97,"y":3},{"g":"P","m":"U","x":2.955,"y":22},
{"g":"P","m":"U","x":2.98,"y":-4},{"g":"P","m":"U","x":2.99,"y":18},{"g":"P","m":"U","x":3.0,"y":-10},{"g":"P","m":"U","x":2.985,"y":8},
{"g":"P","m":"U","x":3.01,"y":3},{"g":"P","m":"U","x":3.02,"y":-14},{"g":"P","m":"U","x":3.03,"y":16},{"g":"P","m":"U","x":3.015,"y":-5},
{"g":"P","m":"U","x":3.04,"y":-10},{"g":"P","m":"U","x":3.05,"y":10},{"g":"P","m":"U","x":3.06,"y":23},{"g":"P","m":"U","x":3.045,"y":-20},
{"g":"P","m":"U","x":3.07,"y":-2},{"g":"P","m":"U","x":3.08,"y":-17},{"g":"P","m":"U","x":3.09,"y":7},{"g":"P","m":"U","x":3.075,"y":20},
{"g":"P","m":"U","x":3.1,"y":12},{"g":"P","m":"U","x":3.11,"y":-7},{"g":"P","m":"U","x":3.12,"y":-22},{"g":"P","m":"U","x":3.105,"y":1},
{"g":"P","m":"U","x":3.13,"y":-12},{"g":"P","m":"U","x":3.14,"y":5},{"g":"P","m":"U","x":3.15,"y":26},{"g":"P","m":"U","x":3.135,"y":-4},
{"g":"P","m":"U","x":3.16,"y":8},{"g":"P","m":"U","x":3.17,"y":-19},{"g":"P","m":"U","x":3.18,"y":-1},{"g":"P","m":"U","x":3.165,"y":18},
{"g":"P","m":"U","x":3.19,"y":-8},{"g":"P","m":"U","x":3.2,"y":14},{"g":"P","m":"U","x":3.21,"y":-14},{"g":"P","m":"U","x":3.195,"y":4},
{"g":"P","m":"U","x":3.22,"y":6},{"g":"P","m":"U","x":3.23,"y":-11},{"g":"P","m":"U","x":3.24,"y":19},{"g":"P","m":"U","x":3.225,"y":-2},
{"g":"P","m":"U","x":3.25,"y":-7},{"g":"P","m":"U","x":3.26,"y":13},{"g":"P","m":"U","x":3.27,"y":26},{"g":"P","m":"U","x":3.255,"y":-17},
{"g":"P","m":"U","x":3.28,"y":1},{"g":"P","m":"U","x":3.29,"y":-14},{"g":"P","m":"U","x":3.3,"y":10},{"g":"P","m":"U","x":3.285,"y":23},
{"g":"P","m":"U","x":3.31,"y":15},{"g":"P","m":"U","x":3.32,"y":-4},{"g":"P","m":"U","x":3.33,"y":-19},{"g":"P","m":"U","x":3.315,"y":4},
{"g":"P","m":"U","x":3.34,"y":-9},{"g":"P","m":"U","x":3.35,"y":8},{"g":"P","m":"U","x":3.36,"y":29},{"g":"P","m":"U","x":3.345,"y":-1},
{"g":"P","m":"U","x":3.37,"y":11},{"g":"P","m":"U","x":3.38,"y":-16},{"g":"P","m":"U","x":3.39,"y":2},{"g":"P","m":"U","x":3.375,"y":21},
{"g":"P","m":"U","x":3.4,"y":-5},{"g":"P","m":"U","x":3.41,"y":17},{"g":"P","m":"U","x":3.4,"y":-11},{"g":"P","m":"U","x":3.405,"y":7},
{"g":"P","m":"U","x":2.605,"y":-8},{"g":"P","m":"U","x":2.66,"y":2},{"g":"P","m":"U","x":2.72,"y":-14},{"g":"P","m":"U","x":2.78,"y":10},{"g":"P","m":"U","x":2.84,"y":-4},{"g":"P","m":"U","x":2.9,"y":15},{"g":"P","m":"U","x":2.96,"y":-10},{"g":"P","m":"U","x":3.02,"y":4},{"g":"P","m":"U","x":3.08,"y":-16},{"g":"P","m":"U","x":3.14,"y":8},{"g":"P","m":"U","x":3.2,"y":-6},{"g":"P","m":"U","x":3.26,"y":12},{"g":"P","m":"U","x":3.32,"y":-12},{"g":"P","m":"U","x":3.38,"y":0},{"g":"P","m":"U","x":2.69,"y":20},{"g":"P","m":"U","x":2.87,"y":-19},{"g":"P","m":"U","x":3.05,"y":24},{"g":"P","m":"U","x":3.23,"y":-18},{"g":"P","m":"U","x":3.35,"y":18},{"g":"P","m":"U","x":2.99,"y":-1},
{"g":"P","m":"U","x":3.048,"y":148.3},{"g":"P","m":"U","x":3.31,"y":137.8},{"g":"P","m":"U","x":2.956,"y":114.4},{"g":"P","m":"U","x":3.085,"y":115},{"g":"P","m":"U","x":3.092,"y":112},{"g":"P","m":"U","x":3.048,"y":104.7},{"g":"P","m":"U","x":3.27,"y":105.7},{"g":"P","m":"U","x":3.38,"y":105.4},{"g":"P","m":"U","x":3.19,"y":96},{"g":"P","m":"U","x":3.2,"y":95},{"g":"P","m":"U","x":3.354,"y":97},{"g":"P","m":"U","x":2.66,"y":91.8},{"g":"P","m":"U","x":2.88,"y":85.5},{"g":"P","m":"U","x":3.074,"y":88},{"g":"P","m":"U","x":3.25,"y":86.5},{"g":"P","m":"U","x":3.225,"y":83},{"g":"P","m":"U","x":3.373,"y":90},{"g":"P","m":"U","x":2.845,"y":83},{"g":"P","m":"U","x":2.94,"y":81},{"g":"P","m":"U","x":2.73,"y":77.5},{"g":"P","m":"U","x":2.76,"y":76},{"g":"P","m":"U","x":2.635,"y":72.6},{"g":"P","m":"U","x":2.71,"y":72.2},{"g":"P","m":"U","x":2.97,"y":81},{"g":"P","m":"U","x":3.01,"y":73.3},{"g":"P","m":"U","x":3.114,"y":75},{"g":"P","m":"U","x":2.605,"y":55},{"g":"P","m":"U","x":2.716,"y":55},{"g":"P","m":"U","x":2.745,"y":51.3},{"g":"P","m":"U","x":2.845,"y":61},{"g":"P","m":"U","x":2.893,"y":57.6},{"g":"P","m":"U","x":2.948,"y":62},{"g":"P","m":"U","x":3.03,"y":59.3},{"g":"P","m":"U","x":3.19,"y":64.6},{"g":"P","m":"U","x":3.2,"y":62},{"g":"P","m":"U","x":3.177,"y":59.3},{"g":"P","m":"U","x":3.317,"y":58.3},{"g":"P","m":"U","x":3.373,"y":47},{"g":"P","m":"U","x":2.598,"y":40},{"g":"P","m":"U","x":2.686,"y":39},{"g":"P","m":"U","x":2.734,"y":37.7},{"g":"P","m":"U","x":2.797,"y":44.7},{"g":"P","m":"U","x":2.863,"y":38.4},{"g":"P","m":"U","x":2.911,"y":41},{"g":"P","m":"U","x":3.12,"y":41},{"g":"P","m":"U","x":3.15,"y":42.6},{"g":"P","m":"U","x":3.25,"y":40},{"g":"P","m":"U","x":3.317,"y":41},{"g":"P","m":"U","x":3.4,"y":40},{"g":"P","m":"U","x":2.635,"y":31.4},{"g":"P","m":"U","x":2.67,"y":28},{"g":"P","m":"U","x":2.72,"y":34},{"g":"P","m":"U","x":2.856,"y":30.7},{"g":"P","m":"U","x":2.956,"y":31.4},{"g":"P","m":"U","x":3.01,"y":32.8},{"g":"P","m":"U","x":3.085,"y":36.7},{"g":"P","m":"U","x":3.27,"y":30.7},{"g":"P","m":"U","x":3.325,"y":29.7},
{"g":"P","m":"U","x":2.61,"y":-23.3},{"g":"P","m":"U","x":2.845,"y":-28.5},{"g":"P","m":"U","x":3.03,"y":-27},{"g":"P","m":"U","x":3.39,"y":-26},{"g":"P","m":"U","x":3.16,"y":-23.3},{"g":"P","m":"U","x":3.25,"y":-24},
{"g":"P","m":"A","x":3.59,"y":-15},{"g":"P","m":"A","x":3.6,"y":-35},{"g":"P","m":"A","x":3.61,"y":2},{"g":"P","m":"A","x":3.595,"y":-25},
{"g":"P","m":"A","x":3.62,"y":-28},{"g":"P","m":"A","x":3.63,"y":-8},{"g":"P","m":"A","x":3.64,"y":-42},{"g":"P","m":"A","x":3.625,"y":-18},
{"g":"P","m":"A","x":3.65,"y":-5},{"g":"P","m":"A","x":3.66,"y":-22},{"g":"P","m":"A","x":3.67,"y":-38},{"g":"P","m":"A","x":3.655,"y":6},
{"g":"P","m":"A","x":3.68,"y":-32},{"g":"P","m":"A","x":3.69,"y":-12},{"g":"P","m":"A","x":3.7,"y":-45},{"g":"P","m":"A","x":3.685,"y":-2},
{"g":"P","m":"A","x":3.71,"y":-20},{"g":"P","m":"A","x":3.72,"y":8},{"g":"P","m":"A","x":3.73,"y":-30},{"g":"P","m":"A","x":3.715,"y":-40},
{"g":"P","m":"A","x":3.74,"y":-10},{"g":"P","m":"A","x":3.75,"y":-26},{"g":"P","m":"A","x":3.76,"y":-36},{"g":"P","m":"A","x":3.745,"y":0},
{"g":"P","m":"A","x":3.77,"y":-40},{"g":"P","m":"A","x":3.78,"y":-17},{"g":"P","m":"A","x":3.79,"y":-6},{"g":"P","m":"A","x":3.775,"y":-33},
{"g":"P","m":"A","x":3.8,"y":-13},{"g":"P","m":"A","x":3.81,"y":-33},{"g":"P","m":"A","x":3.82,"y":4},{"g":"P","m":"A","x":3.805,"y":-23},
{"g":"P","m":"A","x":3.83,"y":-26},{"g":"P","m":"A","x":3.84,"y":-6},{"g":"P","m":"A","x":3.85,"y":-40},{"g":"P","m":"A","x":3.835,"y":-16},
{"g":"P","m":"A","x":3.86,"y":-3},{"g":"P","m":"A","x":3.87,"y":-20},{"g":"P","m":"A","x":3.88,"y":-36},{"g":"P","m":"A","x":3.865,"y":8},
{"g":"P","m":"A","x":3.89,"y":-30},{"g":"P","m":"A","x":3.9,"y":-10},{"g":"P","m":"A","x":3.91,"y":-43},{"g":"P","m":"A","x":3.895,"y":0},
{"g":"P","m":"A","x":3.92,"y":-18},{"g":"P","m":"A","x":3.93,"y":10},{"g":"P","m":"A","x":3.94,"y":-28},{"g":"P","m":"A","x":3.925,"y":-38},
{"g":"P","m":"A","x":3.95,"y":-8},{"g":"P","m":"A","x":3.96,"y":-24},{"g":"P","m":"A","x":3.97,"y":-34},{"g":"P","m":"A","x":3.955,"y":2},
{"g":"P","m":"A","x":3.98,"y":-38},{"g":"P","m":"A","x":3.99,"y":-15},{"g":"P","m":"A","x":4.0,"y":-4},{"g":"P","m":"A","x":3.985,"y":-31},
{"g":"P","m":"A","x":4.01,"y":-17},{"g":"P","m":"A","x":4.02,"y":-37},{"g":"P","m":"A","x":4.03,"y":0},{"g":"P","m":"A","x":4.015,"y":-27},
{"g":"P","m":"A","x":4.04,"y":-30},{"g":"P","m":"A","x":4.05,"y":-10},{"g":"P","m":"A","x":4.06,"y":-44},{"g":"P","m":"A","x":4.045,"y":-20},
{"g":"P","m":"A","x":4.07,"y":-7},{"g":"P","m":"A","x":4.08,"y":-24},{"g":"P","m":"A","x":4.09,"y":-40},{"g":"P","m":"A","x":4.075,"y":4},
{"g":"P","m":"A","x":4.1,"y":-34},{"g":"P","m":"A","x":4.11,"y":-14},{"g":"P","m":"A","x":4.12,"y":-47},{"g":"P","m":"A","x":4.105,"y":-4},
{"g":"P","m":"A","x":4.13,"y":-22},{"g":"P","m":"A","x":4.14,"y":6},{"g":"P","m":"A","x":4.15,"y":-32},{"g":"P","m":"A","x":4.135,"y":-42},
{"g":"P","m":"A","x":4.16,"y":-12},{"g":"P","m":"A","x":4.17,"y":-28},{"g":"P","m":"A","x":4.18,"y":-38},{"g":"P","m":"A","x":4.165,"y":-2},
{"g":"P","m":"A","x":4.19,"y":-42},{"g":"P","m":"A","x":4.2,"y":-19},{"g":"P","m":"A","x":4.21,"y":-8},{"g":"P","m":"A","x":4.195,"y":-35},
{"g":"P","m":"A","x":4.22,"y":-14},{"g":"P","m":"A","x":4.23,"y":-34},{"g":"P","m":"A","x":4.24,"y":3},{"g":"P","m":"A","x":4.225,"y":-24},
{"g":"P","m":"A","x":4.25,"y":-27},{"g":"P","m":"A","x":4.26,"y":-7},{"g":"P","m":"A","x":4.27,"y":-41},{"g":"P","m":"A","x":4.255,"y":-17},
{"g":"P","m":"A","x":4.28,"y":-4},{"g":"P","m":"A","x":4.29,"y":-21},{"g":"P","m":"A","x":4.3,"y":-37},{"g":"P","m":"A","x":4.285,"y":7},
{"g":"P","m":"A","x":4.31,"y":-31},{"g":"P","m":"A","x":4.32,"y":-11},{"g":"P","m":"A","x":4.33,"y":-44},{"g":"P","m":"A","x":4.315,"y":-1},
{"g":"P","m":"A","x":4.34,"y":-19},{"g":"P","m":"A","x":4.35,"y":9},{"g":"P","m":"A","x":4.36,"y":-29},{"g":"P","m":"A","x":4.345,"y":-39},
{"g":"P","m":"A","x":4.37,"y":-9},{"g":"P","m":"A","x":4.38,"y":-25},{"g":"P","m":"A","x":4.39,"y":-35},{"g":"P","m":"A","x":4.375,"y":1},
{"g":"P","m":"A","x":4.4,"y":-39},{"g":"P","m":"A","x":4.41,"y":-16},{"g":"P","m":"A","x":4.4,"y":-5},{"g":"P","m":"A","x":4.405,"y":-32},
{"g":"P","m":"A","x":3.605,"y":-20},{"g":"P","m":"A","x":3.66,"y":-30},{"g":"P","m":"A","x":3.72,"y":-12},{"g":"P","m":"A","x":3.78,"y":-24},{"g":"P","m":"A","x":3.84,"y":-16},{"g":"P","m":"A","x":3.9,"y":-34},{"g":"P","m":"A","x":3.96,"y":-20},{"g":"P","m":"A","x":4.02,"y":-28},{"g":"P","m":"A","x":4.08,"y":-14},{"g":"P","m":"A","x":4.14,"y":-22},{"g":"P","m":"A","x":4.2,"y":-36},{"g":"P","m":"A","x":4.26,"y":-18},{"g":"P","m":"A","x":4.32,"y":-26},{"g":"P","m":"A","x":4.38,"y":-10},{"g":"P","m":"A","x":3.69,"y":-44},{"g":"P","m":"A","x":3.87,"y":-3},{"g":"P","m":"A","x":4.05,"y":-41},{"g":"P","m":"A","x":4.23,"y":4},{"g":"P","m":"A","x":4.35,"y":-38},{"g":"P","m":"A","x":3.99,"y":-8},
{"g":"P","m":"A","x":4.31,"y":152.4},{"g":"P","m":"A","x":3.756,"y":140.2},{"g":"P","m":"A","x":3.63,"y":115},{"g":"P","m":"A","x":3.73,"y":111.6},{"g":"P","m":"A","x":4.148,"y":113.4},{"g":"P","m":"A","x":4.044,"y":102.2},{"g":"P","m":"A","x":4.148,"y":101.2},{"g":"P","m":"A","x":4.247,"y":103},{"g":"P","m":"A","x":4.369,"y":102.2},{"g":"P","m":"A","x":4.358,"y":100},{"g":"P","m":"A","x":4.3,"y":95},{"g":"P","m":"A","x":3.668,"y":92.5},{"g":"P","m":"A","x":3.738,"y":96},{"g":"P","m":"A","x":3.978,"y":93.5},{"g":"P","m":"A","x":3.62,"y":85.5},{"g":"P","m":"A","x":3.72,"y":84.4},{"g":"P","m":"A","x":3.609,"y":78.5},{"g":"P","m":"A","x":3.694,"y":76},{"g":"P","m":"A","x":4.118,"y":81},{"g":"P","m":"A","x":4.295,"y":82},{"g":"P","m":"A","x":3.804,"y":73.3},{"g":"P","m":"A","x":3.98,"y":70.5},{"g":"P","m":"A","x":4.0,"y":69.8},{"g":"P","m":"A","x":4.074,"y":61},{"g":"P","m":"A","x":4.21,"y":57.6},{"g":"P","m":"A","x":4.229,"y":56.5},{"g":"P","m":"A","x":4.369,"y":55.8},{"g":"P","m":"A","x":3.694,"y":65.6},{"g":"P","m":"A","x":3.768,"y":60},{"g":"P","m":"A","x":3.646,"y":52.4},{"g":"P","m":"A","x":3.73,"y":50.6},{"g":"P","m":"A","x":3.797,"y":59.3},{"g":"P","m":"A","x":3.779,"y":57.6},{"g":"P","m":"A","x":3.926,"y":51.7},{"g":"P","m":"A","x":3.989,"y":49},{"g":"P","m":"A","x":4.063,"y":51.7},{"g":"P","m":"A","x":3.934,"y":42.6},{"g":"P","m":"A","x":4.018,"y":38.4},{"g":"P","m":"A","x":4.284,"y":44.3},{"g":"P","m":"A","x":4.347,"y":43.6},{"g":"P","m":"A","x":3.638,"y":35},{"g":"P","m":"A","x":3.712,"y":43.6},{"g":"P","m":"A","x":3.694,"y":40},{"g":"P","m":"A","x":3.841,"y":30.7},{"g":"P","m":"A","x":3.952,"y":33.2},{"g":"P","m":"A","x":4.081,"y":31.4},{"g":"P","m":"A","x":4.173,"y":28.6},{"g":"P","m":"A","x":4.284,"y":28},{"g":"P","m":"A","x":4.34,"y":22},{"g":"P","m":"A","x":3.804,"y":28},{"g":"P","m":"A","x":3.657,"y":21},{"g":"P","m":"A","x":3.897,"y":19},{"g":"P","m":"A","x":4.19,"y":19},{"g":"P","m":"A","x":4.413,"y":21},
{"g":"P","m":"A","x":4.089,"y":-48.8},{"g":"P","m":"A","x":3.675,"y":-43.5},{"g":"P","m":"A","x":4.19,"y":-43.5},{"g":"P","m":"A","x":4.358,"y":-46},{"g":"P","m":"A","x":3.86,"y":-42},{"g":"P","m":"A","x":4.376,"y":-35}
],
"l":[
{"p":"A","s":0.455,"c":-105.7},{"p":"A","s":0.46,"c":-103.1},{"p":"A","s":0.47,"c":-97.7},{"p":"A","s":0.48,"c":-92.4},{"p":"A","s":0.49,"c":-87.1},{"p":"A","s":0.5,"c":-81.8},{"p":"A","s":0.51,"c":-76.4},{"p":"A","s":0.52,"c":-71.1},{"p":"A","s":0.53,"c":-65.8},{"p":"A","s":0.54,"c":-60.4},{"p":"A","s":0.55,"c":-55.1},{"p":"A","s":0.56,"c":-49.8},{"p":"A","s":0.57,"c":-44.5},{"p":"A","s":0.58,"c":-39.1},{"p":"A","s":0.59,"c":-33.8},{"p":"A","s":0.6,"c":-28.5},{"p":"A","s":0.61,"c":-23.1},{"p":"A","s":0.62,"c":-17.8},{"p":"A","s":0.63,"c":-12.5},{"p":"A","s":0.64,"c":-7.1},{"p":"A","s":0.65,"c":-1.8},{"p":"A","s":0.66,"c":3.5},{"p":"A","s":0.67,"c":8.8},{"p":"A","s":0.68,"c":14.2},{"p":"A","s":0.69,"c":19.5},{"p":"A","s":0.7,"c":24.8},{"p":"A","s":0.71,"c":30.2},{"p":"A","s":0.72,"c":35.5},{"p":"A","s":0.73,"c":40.8},{"p":"A","s":0.74,"c":46.2},{"p":"A","s":0.75,"c":51.5},{"p":"A","s":0.76,"c":56.8},{"p":"A","s":0.77,"c":62.1},{"p":"A","s":0.79,"c":72.8},{"p":"A","s":0.8,"c":78.1},{"p":"A","s":0.81,"c":83.5},{"p":"A","s":0.83,"c":94.1},{"p":"A","s":0.845,"c":102.1},{"p":"A","s":0.87,"c":115.4},
{"p":"B","s":0.455,"c":-52.9},{"p":"B","s":0.46,"c":-50.6},{"p":"B","s":0.47,"c":-46.1},{"p":"B","s":0.48,"c":-41.5},{"p":"B","s":0.49,"c":-36.9},{"p":"B","s":0.5,"c":-32.4},{"p":"B","s":0.51,"c":-27.8},{"p":"B","s":0.52,"c":-23.2},{"p":"B","s":0.53,"c":-18.6},{"p":"B","s":0.54,"c":-14.1},{"p":"B","s":0.55,"c":-9.5},{"p":"B","s":0.56,"c":-4.9},{"p":"B","s":0.57,"c":-0.3},{"p":"B","s":0.58,"c":4.2},{"p":"B","s":0.59,"c":8.8},{"p":"B","s":0.6,"c":13.4},{"p":"B","s":0.61,"c":18},{"p":"B","s":0.62,"c":22.5},{"p":"B","s":0.63,"c":27.1},{"p":"B","s":0.64,"c":31.7},{"p":"B","s":0.65,"c":36.3},{"p":"B","s":0.66,"c":40.8},{"p":"B","s":0.67,"c":45.4},{"p":"B","s":0.68,"c":50},{"p":"B","s":0.69,"c":54.5},{"p":"B","s":0.7,"c":59.1},{"p":"B","s":0.71,"c":63.7},{"p":"B","s":0.72,"c":68.3},{"p":"B","s":0.73,"c":72.8},{"p":"B","s":0.74,"c":77.4},{"p":"B","s":0.75,"c":82},{"p":"B","s":0.76,"c":86.6},{"p":"B","s":0.77,"c":91.1},{"p":"B","s":0.78,"c":95.7},{"p":"B","s":0.8,"c":104.8},{"p":"B","s":0.82,"c":114},{"p":"B","s":0.84,"c":123.1},{"p":"B","s":0.85,"c":127.7},{"p":"B","s":0.87,"c":136.9},
{"p":"C","s":0.4,"c":-28.9},{"p":"C","s":0.42,"c":-24.8},{"p":"C","s":0.44,"c":-20.7},{"p":"C","s":0.46,"c":-16.6},{"p":"C","s":0.48,"c":-12.5},{"p":"C","s":0.5,"c":-8.4},{"p":"C","s":0.52,"c":-4.3},{"p":"C","s":0.54,"c":-0.2},{"p":"C","s":0.56,"c":3.9},{"p":"C","s":0.58,"c":8},{"p":"C","s":0.6,"c":12.1},{"p":"C","s":0.62,"c":16.2},{"p":"C","s":0.64,"c":20.3},{"p":"C","s":0.66,"c":24.4},{"p":"C","s":0.68,"c":28.5},{"p":"C","s":0.7,"c":32.6},{"p":"C","s":0.72,"c":36.7},{"p":"C","s":0.74,"c":40.8},{"p":"C","s":0.76,"c":45},{"p":"C","s":0.78,"c":49.1},{"p":"C","s":0.8,"c":53.2},{"p":"C","s":0.82,"c":57.3},{"p":"C","s":0.84,"c":61.4},{"p":"C","s":0.86,"c":65.5},{"p":"C","s":0.88,"c":69.6},{"p":"C","s":0.9,"c":73.7},{"p":"C","s":0.92,"c":77.8},{"p":"C","s":0.94,"c":81.9},{"p":"C","s":0.96,"c":86},{"p":"C","s":0.98,"c":90.1},{"p":"C","s":1.0,"c":94.2},{"p":"C","s":1.02,"c":98.3},{"p":"C","s":1.04,"c":102.4},{"p":"C","s":1.06,"c":106.5},{"p":"C","s":1.08,"c":110.6},{"p":"C","s":1.1,"c":114.7},{"p":"C","s":1.216,"c":138.5},{"p":"C","s":1.266,"c":148.8},
{"p":"D","s":0.4,"c":-45},{"p":"D","s":0.42,"c":-40.4},{"p":"D","s":0.44,"c":-35.7},{"p":"D","s":0.46,"c":-31.1},{"p":"D","s":0.48,"c":-26.4},{"p":"D","s":0.5,"c":-21.8},{"p":"D","s":0.52,"c":-17.1},{"p":"D","s":0.54,"c":-12.5},{"p":"D","s":0.56,"c":-7.8},{"p":"D","s":0.58,"c":-3.2},{"p":"D","s":0.6,"c":1.5},{"p":"D","s":0.62,"c":6.2},{"p":"D","s":0.64,"c":10.8},{"p":"D","s":0.66,"c":15.5},{"p":"D","s":0.68,"c":20.1},{"p":"D","s":0.7,"c":24.8},{"p":"D","s":0.72,"c":29.4},{"p":"D","s":0.74,"c":34.1},{"p":"D","s":0.76,"c":38.7},{"p":"D","s":0.78,"c":43.4},{"p":"D","s":0.8,"c":48},{"p":"D","s":0.82,"c":52.7},{"p":"D","s":0.84,"c":57.3},{"p":"D","s":0.86,"c":62},{"p":"D","s":0.88,"c":66.6},{"p":"D","s":0.9,"c":71.3},{"p":"D","s":0.92,"c":75.9},{"p":"D","s":0.94,"c":80.6},{"p":"D","s":0.96,"c":85.2},{"p":"D","s":0.98,"c":89.9},{"p":"D","s":1.0,"c":94.5},{"p":"D","s":1.02,"c":99.2},{"p":"D","s":1.04,"c":103.8},{"p":"D","s":1.06,"c":108.5},{"p":"D","s":1.08,"c":113.1},{"p":"D","s":1.1,"c":117.8},{"p":"D","s":1.2,"c":141},{"p":"D","s":1.23,"c":148}
],
"r":[
{"p":"E","x1":0.54,"x2":1.46,"y1":0.612,"y2":0.612},{"p":"E","x1":1.545,"x2":2.455,"y1":0.672,"y2":0.672},
{"p":"F","x1":0.55,"x2":1.45,"y1":-22.5,"y2":-22.5},{"p":"F","x1":1.55,"x2":2.46,"y1":18.2,"y2":18.2},{"p":"F","x1":2.55,"x2":3.45,"y1":26.9,"y2":26.9},{"p":"F","x1":3.55,"x2":4.45,"y1":16.8,"y2":16.8},
{"p":"A","x1":0.32,"x2":0.612,"y1":-22.1,"y2":-22.1},{"p":"A","x1":0.612,"x2":0.612,"y1":-123,"y2":-22.1},
{"p":"B","x1":0.32,"x2":0.61,"y1":18.2,"y2":18.2},{"p":"B","x1":0.61,"x2":0.61,"y1":-123,"y2":18.2},
{"p":"C","x1":0.32,"x2":0.672,"y1":26.9,"y2":26.9},{"p":"C","x1":0.672,"x2":0.672,"y1":-123,"y2":26.9},
{"p":"D","x1":0.32,"x2":0.666,"y1":16.8,"y2":16.8},{"p":"D","x1":0.666,"x2":0.666,"y1":-123,"y2":16.8}
]
},
"spacing":5,
"hconcat":[
{"spacing":1,"title":{"text":"Centiloid","orient":"left","anchor":"middle","fontSize":14,"fontWeight":"bold","offset":0,"frame":"bounds"},"vconcat":[
  {"width":109,"height":115,"title":{"text":"(A): CL = 532.9 SUVR − 348.2","dx":-28,"frame":"group"},"view":{"stroke":"#444","strokeWidth":1.5},
   "layer":[
    {"data":{"name":"l"},"transform":[{"filter":"datum.p==='A'"}],"mark":{"type":"point","shape":"diamond","filled":false,"color":"#D95F02","size":25,"strokeWidth":1,"opacity":1},
     "encoding":{"x":{"field":"s","type":"quantitative","scale":{"domain":[0.32,1.33],"nice":false,"zero":false},"axis":{"values":[0.4,0.6,0.8,1.0,1.2],"tickCount":10,"format":".1f","title":null,"labelPadding":1,"labelOverlap":false}},
      "y":{"field":"c","type":"quantitative","scale":{"domain":[-123,165],"nice":false,"zero":false},"axis":{"values":[-100,-50,0,50,100,150],"tickCount":10,"title":null,"labelPadding":3,"labelOverlap":false}}}},
    {"data":{"name":"r"},"transform":[{"filter":"datum.p==='A'"}],"mark":{"type":"rule","strokeDash":[5,3],"strokeWidth":1.5,"color":"black"},
     "encoding":{"x":{"field":"x1","type":"quantitative"},"x2":{"field":"x2"},"y":{"field":"y1","type":"quantitative"},"y2":{"field":"y2"}}}
   ]},
  {"width":109,"height":115,"title":{"text":"(B): CL = 457.3 SUVR − 261","dx":-28,"frame":"group"},"view":{"stroke":"#444","strokeWidth":1.5},
   "layer":[
    {"data":{"name":"l"},"transform":[{"filter":"datum.p==='B'"}],"mark":{"type":"point","shape":"M-1,-1L1,1M-1,1L1,-1","filled":false,"color":"#D95F02","size":25,"strokeWidth":1,"opacity":1},
     "encoding":{"x":{"field":"s","type":"quantitative","scale":{"domain":[0.32,1.33],"nice":false,"zero":false},"axis":{"values":[0.4,0.6,0.8,1.0,1.2],"tickCount":10,"format":".1f","title":null,"labelPadding":1,"labelOverlap":false}},
      "y":{"field":"c","type":"quantitative","scale":{"domain":[-123,165],"nice":false,"zero":false},"axis":{"values":[-100,-50,0,50,100,150],"tickCount":10,"title":null,"labelPadding":3,"labelOverlap":false}}}},
    {"data":{"name":"r"},"transform":[{"filter":"datum.p==='B'"}],"mark":{"type":"rule","strokeDash":[5,3],"strokeWidth":1.5,"color":"black"},
     "encoding":{"x":{"field":"x1","type":"quantitative"},"x2":{"field":"x2"},"y":{"field":"y1","type":"quantitative"},"y2":{"field":"y2"}}}
   ]},
  {"width":109,"height":115,"title":{"text":"(C): CL = 205.2 SUVR − 111","dx":-28,"frame":"group"},"view":{"stroke":"#444","strokeWidth":1.5},
   "layer":[
    {"data":{"name":"l"},"transform":[{"filter":"datum.p==='C'"}],"mark":{"type":"point","shape":"diamond","filled":false,"color":"#1B9E77","size":25,"strokeWidth":1,"opacity":1},
     "encoding":{"x":{"field":"s","type":"quantitative","scale":{"domain":[0.32,1.33],"nice":false,"zero":false},"axis":{"values":[0.4,0.6,0.8,1.0,1.2],"tickCount":10,"format":".1f","title":null,"labelPadding":1,"labelOverlap":false}},
      "y":{"field":"c","type":"quantitative","scale":{"domain":[-123,165],"nice":false,"zero":false},"axis":{"values":[-100,-50,0,50,100,150],"tickCount":10,"title":null,"labelPadding":3,"labelOverlap":false}}}},
    {"data":{"name":"r"},"transform":[{"filter":"datum.p==='C'"}],"mark":{"type":"rule","strokeDash":[5,3],"strokeWidth":1.5,"color":"black"},
     "encoding":{"x":{"field":"x1","type":"quantitative"},"x2":{"field":"x2"},"y":{"field":"y1","type":"quantitative"},"y2":{"field":"y2"}}}
   ]},
  {"width":109,"height":115,"title":{"text":"(D): CL = 127.6 SUVR − 68.6","dx":-28,"frame":"group"},"view":{"stroke":"#444","strokeWidth":1.5},
   "layer":[
    {"data":{"name":"l"},"transform":[{"filter":"datum.p==='D'"}],"mark":{"type":"point","shape":"M-1,-1L1,1M-1,1L1,-1","filled":false,"color":"#1B9E77","size":25,"strokeWidth":1,"opacity":1},
     "encoding":{"x":{"field":"s","type":"quantitative","scale":{"domain":[0.32,1.33],"nice":false,"zero":false},"axis":{"values":[0.4,0.6,0.8,1.0,1.2],"tickCount":10,"format":".1f","title":"SUVR","labelPadding":1,"titlePadding":3,"labelOverlap":false}},
      "y":{"field":"c","type":"quantitative","scale":{"domain":[-123,165],"nice":false,"zero":false},"axis":{"values":[-100,-50,0,50,100,150],"tickCount":10,"title":null,"labelPadding":3,"labelOverlap":false}}}},
    {"data":{"name":"r"},"transform":[{"filter":"datum.p==='D'"}],"mark":{"type":"rule","strokeDash":[5,3],"strokeWidth":1.5,"color":"black"},
     "encoding":{"x":{"field":"x1","type":"quantitative"},"x2":{"field":"x2"},"y":{"field":"y1","type":"quantitative"},"y2":{"field":"y2"}}}
   ]}
]},
{"spacing":13,"center":true,"vconcat":[
  {"width":389,"height":257,"view":{"stroke":"#666","strokeWidth":1},
   "layer":[
    {"data":{"name":"e"},"mark":{"type":"point","shape":"diamond","filled":false,"size":40,"strokeWidth":1.2,"opacity":1},
     "encoding":{"x":{"field":"x","type":"quantitative","scale":{"domain":[0.4,2.6],"nice":false,"zero":false},"axis":{"values":[1,2],"tickCount":10,"labelExpr":"datum.value==1?'FBP_GIF_WM':'FBP_GIF_WM_PVC'","labelFontWeight":"bold","labelColor":"#333","labelPadding":5,"title":null}},
      "y":{"field":"s","type":"quantitative","scale":{"domain":[0.309,1.327],"nice":false,"zero":false},"axis":{"values":[0.4,0.6,0.8,1.0,1.2],"tickCount":10,"format":".1f","title":"SUVR","labelPadding":3,"titlePadding":8,"labelOverlap":false}},
      "color":{"field":"g","type":"nominal","scale":{"domain":["W","P"],"range":["#D95F02","#1B9E77"]},"legend":null}}},
    {"data":{"name":"r"},"transform":[{"filter":"datum.p==='E'"}],"mark":{"type":"rule","strokeDash":[6,3],"strokeWidth":1.5,"color":"black"},
     "encoding":{"x":{"field":"x1","type":"quantitative"},"x2":{"field":"x2"},"y":{"field":"y1","type":"quantitative"},"y2":{"field":"y2"}}},
    {"data":{"name":"t"},"transform":[{"filter":"datum.p==='E'"}],"mark":{"type":"text","align":"left","baseline":"middle","fontSize":14,"color":"black"},
     "encoding":{"x":{"field":"x","type":"quantitative"},"y":{"field":"y","type":"quantitative"},"text":{"field":"t"}}}
   ]},
  {"width":377,"height":278,"view":{"stroke":"#666","strokeWidth":1},
   "layer":[
    {"data":{"name":"f"},"mark":{"type":"point","filled":false,"size":36,"strokeWidth":1.2,"opacity":1},
     "encoding":{"x":{"field":"x","type":"quantitative","scale":{"domain":[0.414,4.58],"nice":false,"zero":false},"axis":{"values":[1,2,3,4],"tickCount":10,"labels":false,"title":null}},
      "y":{"field":"y","type":"quantitative","scale":{"domain":[-123,168],"nice":false,"zero":false},"axis":{"values":[-100,-50,0,50,100,150],"tickCount":10,"title":"Centiloid","labelPadding":3,"titlePadding":5,"labelOverlap":false}},
      "color":{"field":"g","type":"nominal","scale":{"domain":["W","P"],"range":["#D95F02","#1B9E77"]},"legend":null},
      "shape":{"field":"m","type":"nominal","scale":{"domain":["U","A"],"range":["diamond","M-1,-1L1,1M-1,1L1,-1"]},
       "legend":{"orient":"none","legendX":349,"legendY":515,"title":null,"padding":0,"labelExpr":"datum.label==='U'?'Unadjusted':'Adjusted'","labelFontSize":14,"labelFontWeight":"bold","labelColor":"black","labelAlign":"center","labelOffset":49,"symbolStrokeColor":"black","symbolFillColor":"transparent","symbolSize":36,"symbolStrokeWidth":1,"rowPadding":8}}}},
    {"data":{"name":"r"},"transform":[{"filter":"datum.p==='F'"}],"mark":{"type":"rule","strokeDash":[6,3],"strokeWidth":1.5,"color":"black"},
     "encoding":{"x":{"field":"x1","type":"quantitative"},"x2":{"field":"x2"},"y":{"field":"y1","type":"quantitative"},"y2":{"field":"y2"}}},
    {"data":{"name":"t"},"transform":[{"filter":"datum.p==='F'"}],"mark":{"type":"text","align":"left","baseline":"middle","fontSize":14,"color":"black"},
     "encoding":{"x":{"field":"x","type":"quantitative"},"y":{"field":"y","type":"quantitative"},"text":{"field":"t"}}}
   ]}
]}
]
}
